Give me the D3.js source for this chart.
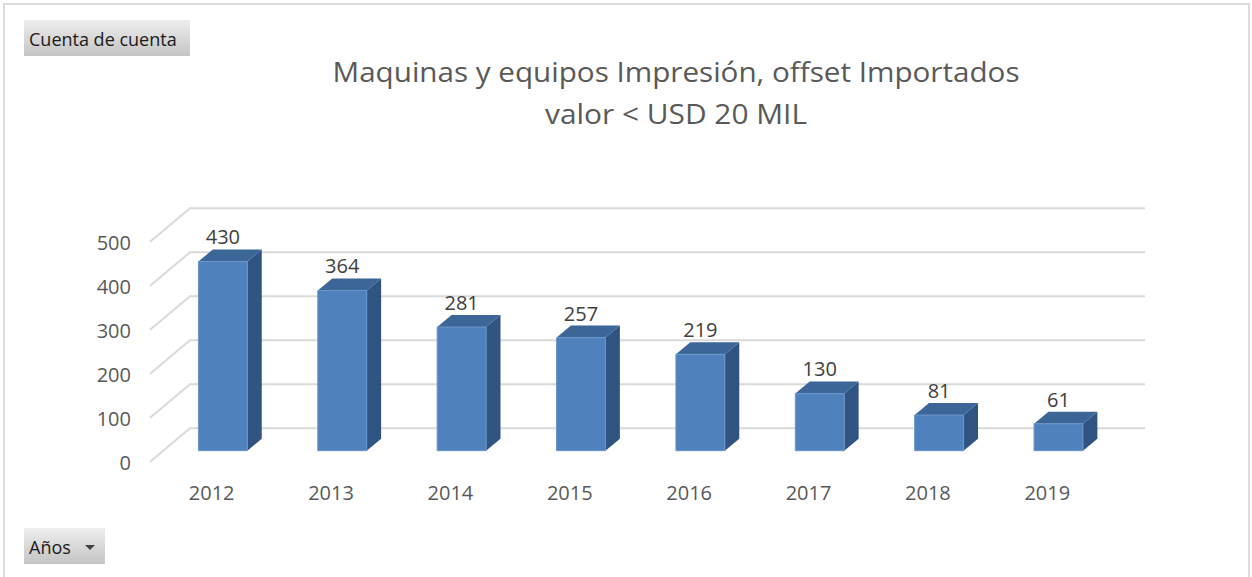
<!DOCTYPE html>
<html><head><meta charset="utf-8">
<script src="https://cdn.jsdelivr.net/npm/d3@7"></script>
<style>html,body{margin:0;padding:0;background:#fff;} svg{display:block;font-family:"Open Sans",sans-serif;}</style>
</head><body>
<script>
const years = ["2012","2013","2014","2015","2016","2017","2018","2019"];
const values = [430,364,281,257,219,130,81,61];
const yTicks = [0,100,200,300,400,500];
const titleLines = ["Maquinas y equipos Impresión, offset Importados","valor < USD 20 MIL"];

const W=1252,H=577;
const svg=d3.select("body").append("svg").attr("width",W).attr("height",H);

// frame
svg.append("rect").attr("x",4).attr("y",4).attr("width",1245).attr("height",620)
  .attr("fill","none").attr("stroke","#dcdcdc").attr("stroke-width",2);

const x0=150,x1=1105,depthX=40,depthY=33.4,floorY=461.7,zF=0.33,zB=0.69;
const x=d3.scaleBand().domain(years).range([x0,x1]).paddingInner(0.59).paddingOuter(0.295);
const h=d3.scaleLinear().domain([0,500]).range([0,220]);
const P=(xv,v,z)=>[xv+depthX*z, floorY-depthY*z-h(v)];
const line=d3.line();

// gridlines (side wall + back wall)
svg.append("g").selectAll("path").data(yTicks).join("path")
  .attr("d",v=>line([P(x0,v,0),P(x0,v,1),P(x1,v,1)]))
  .attr("fill","none").attr("stroke","#d9d9d9").attr("stroke-width",2);

// y tick labels
svg.append("g").selectAll("text").data(yTicks).join("text")
  .attr("x",131).attr("y",v=>P(x0,v,0)[1]+8)
  .attr("text-anchor","end").attr("font-size",20).attr("fill","#595959").text(v=>v);

// bars
const bw=x.bandwidth();
const bars=svg.append("g").selectAll("g").data(years.map((y,i)=>({y,v:values[i]}))).join("g");
bars.append("path").attr("d",d=>{const xl=x(d.y),xr=xl+bw;return line([P(xr,d.v,zF),P(xr,d.v,zB),P(xr,0,zB),P(xr,0,zF)])+"Z";})
  .attr("fill","#2f5481");
bars.append("path").attr("d",d=>{const xl=x(d.y),xr=xl+bw;return line([P(xl,d.v,zF),P(xr,d.v,zF),P(xr,d.v,zB),P(xl,d.v,zB)])+"Z";})
  .attr("fill","#3b6697");
bars.append("path").attr("d",d=>{const xl=x(d.y),xr=xl+bw;return line([P(xl,d.v,zF),P(xr,d.v,zF),P(xr,0,zF),P(xl,0,zF)])+"Z";})
  .attr("fill","#4f81bd").attr("stroke","#6b96cc").attr("stroke-width",1);
bars.append("text")
  .attr("x",d=>x(d.y)+bw/2+depthX*zF).attr("y",d=>P(0,d.v,zB)[1]-5)
  .attr("text-anchor","middle").attr("font-size",20).attr("fill","#404040").text(d=>d.v);

// x labels
svg.append("g").selectAll("text").data(years).join("text")
  .attr("x",d=>x(d)+bw/2+2).attr("y",500)
  .attr("text-anchor","middle").attr("font-size",20).attr("fill","#595959").text(d=>d);

// title
const t=svg.append("g").selectAll("text").data(titleLines).join("text")
  .attr("x",676).attr("y",(d,i)=>82+i*42).attr("text-anchor","middle")
  .attr("font-size",25).attr("fill","#595959").text(d=>d);
const targetW=[687,262];
t.each(function(d,i){
  const w=this.getComputedTextLength();
  const fs=Math.min(27.5,25*targetW[i]/w);
  const s=d3.select(this).attr("font-size",fs);
  const w2=this.getComputedTextLength();
  if(Math.abs(w2-targetW[i])>3) s.attr("textLength",targetW[i]).attr("lengthAdjust","spacingAndGlyphs");
});

// buttons
const defs=svg.append("defs");
const g=defs.append("linearGradient").attr("id","btn").attr("x1",0).attr("y1",0).attr("x2",0).attr("y2",1);
g.append("stop").attr("offset","0%").attr("stop-color","#eeeeee");
g.append("stop").attr("offset","100%").attr("stop-color","#c4c4c4");
function button(bx,by,bwid,label){
  svg.append("rect").attr("x",bx).attr("y",by).attr("width",bwid).attr("height",36).attr("fill","url(#btn)");
  svg.append("text").attr("x",bx+5).attr("y",by+25.5).attr("font-size",18).attr("fill","#1a1a1a").text(label);
}
button(24,20,166,"Cuenta de cuenta");
button(24,528,81,"Años");
svg.append("path").attr("d","M85,545 L95,545 L90,550 Z").attr("fill","#404040");
</script>
</body></html>
